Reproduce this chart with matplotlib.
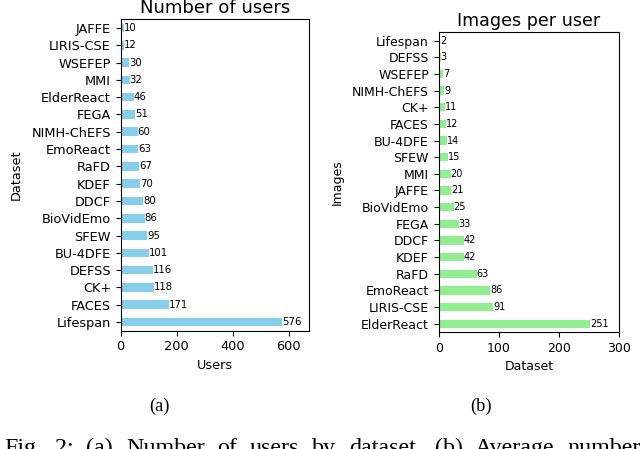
import matplotlib
matplotlib.use("Agg")
import matplotlib.pyplot as plt

# number of users per dataset (top to bottom as shown)
user_datasets = ["JAFFE", "LIRIS-CSE", "WSEFEP", "MMI", "ElderReact", "FEGA",
                 "NIMH-ChEFS", "EmoReact", "RaFD", "KDEF", "DDCF", "BioVidEmo",
                 "SFEW", "BU-4DFE", "DEFSS", "CK+", "FACES", "Lifespan"]
users = [10, 12, 30, 32, 46, 51, 60, 63, 67, 70, 80, 86, 95, 101, 116, 118, 171, 576]

# average images per user (top to bottom as shown)
img_datasets = ["Lifespan", "DEFSS", "WSEFEP", "NIMH-ChEFS", "CK+", "FACES",
                "BU-4DFE", "SFEW", "MMI", "JAFFE", "BioVidEmo", "FEGA", "DDCF",
                "KDEF", "RaFD", "EmoReact", "LIRIS-CSE", "ElderReact"]
images = [2, 3, 7, 9, 11, 12, 14, 15, 20, 21, 25, 33, 42, 42, 63, 86, 91, 251]

caption = "Fig. 2: (a) Number of users by dataset. (b) Average number"

fig = plt.figure(figsize=(6.4, 4.49), dpi=100)

ax1 = fig.add_axes([120.7 / 640, 1 - 330.7 / 449, 188 / 640, 311.4 / 449])
ax2 = fig.add_axes([438.7 / 640, 1 - 332 / 449, 180.6 / 640, 299.7 / 449])


def draw(ax, names, vals, color, title, xlabel, ylabel, xmax, fs):
    n = len(names)
    pos = list(range(n - 1, -1, -1))
    ax.barh(pos, vals, height=0.5, color=color)
    for p, v in zip(pos, vals):
        ax.text(v, p, str(v), ha="left", va="center", fontsize=fs * 0.78)
    ax.set_yticks(pos)
    ax.set_yticklabels(names)
    ax.set_ylim(-0.5, n - 0.5)
    ax.set_xlim(0, xmax)
    ax.tick_params(labelsize=fs, length=3.5)
    ax.set_title(title, fontsize=fs * 1.4, pad=4.8)
    ax.set_xlabel(xlabel, fontsize=fs)
    ax.set_ylabel(ylabel, fontsize=fs, labelpad=6)


draw(ax1, user_datasets, users, "skyblue", "Number of users", "Users", "Dataset", 671, 9.3)
draw(ax2, img_datasets, images, "lightgreen", "Images per user", "Dataset", "Images", 300, 9.0)

serif = ["Liberation Serif", "DejaVu Serif"]
fig.text(160 / 640, 1 - 406 / 449, "(a)", ha="center", va="center", fontsize=13.3, family=serif)
fig.text(481 / 640, 1 - 406 / 449, "(b)", ha="center", va="center", fontsize=13.3, family=serif)

# justified caption line, running off the bottom edge like the page crop
renderer = fig.canvas.get_renderer()
words = caption.split()
texts = [fig.text(0, 1 - 454 / 449, w, ha="left", va="baseline", fontsize=17.3, family=serif)
         for w in words]
widths = [t.get_window_extent(renderer).width for t in texts]
left, right = 4, 641
gap = (right - left - sum(widths)) / (len(words) - 1)
x = left
for t, w in zip(texts, widths):
    t.set_x(x / 640)
    x += w + gap

fig.savefig("out.png", dpi=100)
